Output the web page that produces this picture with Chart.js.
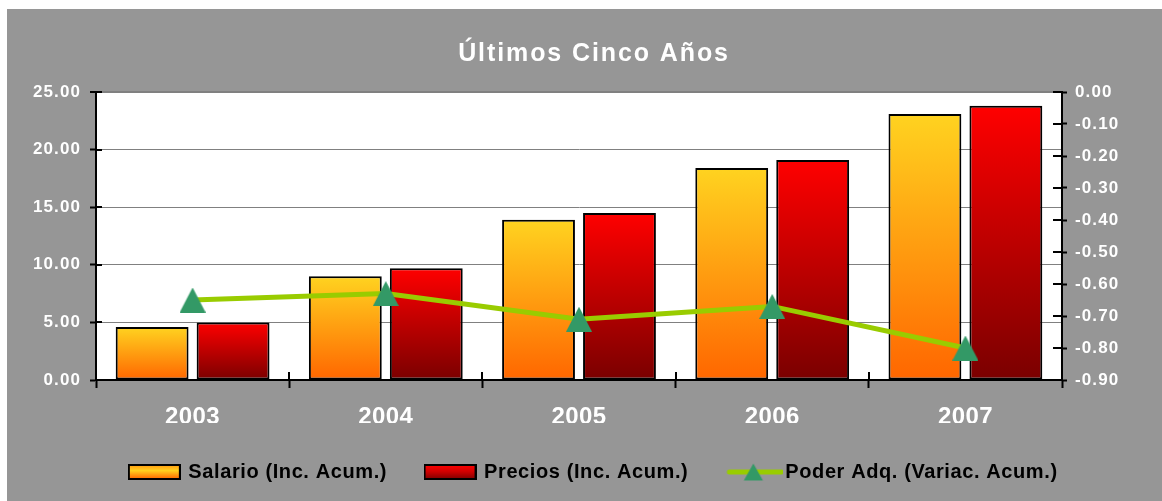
<!DOCTYPE html>
<html><head><meta charset="utf-8">
<script src="https://cdn.jsdelivr.net/npm/chart.js@4.4.1/dist/chart.umd.min.js"></script>
<style>
html,body{margin:0;padding:0;background:#fff;overflow:hidden;width:1162px;height:501px}
#wrap{position:absolute;left:7px;top:9px;width:1155px;height:492px;background:#969696}
canvas{display:block}
</style></head><body>
<div id="wrap"><canvas id="c" width="1155" height="492"></canvas></div>
<script>
const categories = ['2003', '2004', '2005', '2006', '2007'];
const salario = [4.6, 9.0, 13.9, 18.4, 23.1];
const precios = [5.0, 9.7, 14.5, 19.1, 23.8];
const poderAdq = [-0.65, -0.63, -0.71, -0.67, -0.80];
const seriesNames = ['Salario (Inc. Acum.)', 'Precios (Inc. Acum.)', 'Poder Adq. (Variac. Acum.)'];
const titleText = 'Últimos Cinco Años';
const leftAxis = [0, 25, 5];
const rightAxis = [-0.9, 0, 0.1];

const FAMILY = "'Liberation Sans', Arial, sans-serif";

// letter spacing per font size (Excel-like wide rendering)
(function(){
  const P = CanvasRenderingContext2D.prototype;
  const d = Object.getOwnPropertyDescriptor(P, 'font');
  const sp = {'25':'1.9px','24':'0.4px','20':'0.6px','17':'1.1px'};
  Object.defineProperty(P, 'font', {configurable:true, enumerable:d.enumerable,
    get(){ return d.get.call(this); },
    set(v){ d.set.call(this, v); const m = /(\d+(?:\.\d+)?)px/.exec(v);
      if ('letterSpacing' in this) this.letterSpacing = (m && sp[m[1]]) || '0px'; }});
})();

function makeCanvas(w, h, draw){ const c = document.createElement('canvas'); c.width = w; c.height = h; draw(c.getContext('2d'), w, h); return c; }

const triImg = makeCanvas(26, 25, (g) => {
  g.fillStyle = '#339966'; g.beginPath(); g.moveTo(13, 0); g.lineTo(26, 25); g.lineTo(0, 25); g.closePath(); g.fill();
});
function boxImg(stops){ return makeCanvas(53, 16, (g, w, h) => {
  const gr = g.createLinearGradient(0, 1, 0, h - 1); stops.forEach(s => gr.addColorStop(s[0], s[1]));
  g.fillStyle = '#000'; g.fillRect(0, 0, w, h); g.fillStyle = gr; g.fillRect(2, 2, w - 4, h - 4);
}); }
const salBox = boxImg([[0, '#FF9A10'], [0.4, '#FFD020'], [1, '#FF6600']]);
const preBox = boxImg([[0, '#FF0000'], [0.5, '#CC0000'], [1, '#800000']]);
const lineImg = makeCanvas(64, 20, (g) => {
  g.strokeStyle = '#99CC00'; g.lineWidth = 5; g.lineCap = 'round';
  g.beginPath(); g.moveTo(10, 10); g.lineTo(62, 10); g.stroke();
  g.fillStyle = '#339966'; g.beginPath(); g.moveTo(34, 1.5); g.lineTo(43.5, 18.5); g.lineTo(24.5, 18.5); g.closePath(); g.fill();
});

function barGradient(top, bottom){
  return function(c){
    const chart = c.chart; const ys = chart.scales && chart.scales.y;
    if (!ys || !chart.chartArea || c.type !== 'data') return top;
    const y0 = ys.getPixelForValue(c.raw), y1 = ys.getPixelForValue(0);
    if (!isFinite(y0) || !isFinite(y1) || y0 === y1) return top;
    const g = chart.ctx.createLinearGradient(0, y0, 0, y1);
    g.addColorStop(0, top); g.addColorStop(1, bottom); return g;
  };
}

const plotBg = { id:'plotBg', beforeDraw(chart){ const {ctx, chartArea:a} = chart; ctx.save(); ctx.fillStyle = '#fff'; ctx.fillRect(a.left, a.top, a.right - a.left, a.bottom - a.top); ctx.restore(); } };
const innerTicks = { id:'innerTicks', afterDraw(chart){
  const {ctx, chartArea:a, scales} = chart; ctx.save(); ctx.strokeStyle = '#000'; ctx.lineWidth = 2; ctx.beginPath();
  scales.y.ticks.forEach(t => { const y = Math.round(scales.y.getPixelForValue(t.value)); ctx.moveTo(a.left, y); ctx.lineTo(a.left + 6, y); });
  scales.y2.ticks.forEach(t => { const y = Math.round(scales.y2.getPixelForValue(t.value)); ctx.moveTo(a.right - 9, y); ctx.lineTo(a.right, y); });
  for (let i = 0; i <= categories.length; i++) { const x = Math.round(scales.x.getPixelForValue(i - 0.5)); ctx.moveTo(x, a.bottom - 8); ctx.lineTo(x, a.bottom); }
  ctx.stroke(); ctx.restore(); } };

const tickFont = {family: FAMILY, size: 17, weight: 'bold'};
new Chart(document.getElementById('c'), {
  type: 'bar',
  data: { labels: categories, datasets: [
    {type:'bar', label: seriesNames[0], data: salario, yAxisID:'y', order:1, backgroundColor: barGradient('#FFD320', '#FF6600'), borderColor:'#000', borderWidth:2, borderSkipped:false, categoryPercentage:0.838, barPercentage:0.9},
    {type:'bar', label: seriesNames[1], data: precios, yAxisID:'y', order:2, backgroundColor: barGradient('#FF0000', '#7A0000'), borderColor:'#000', borderWidth:2, borderSkipped:false, categoryPercentage:0.838, barPercentage:0.9},
    {type:'line', label: seriesNames[2], data: poderAdq, yAxisID:'y2', order:0, borderColor:'#99CC00', borderWidth:5, tension:0, fill:false, pointStyle: triImg, pointRadius:13, pointHoverRadius:13}
  ]},
  options: {
    responsive:false, animation:false, devicePixelRatio:1,
    layout: {padding: {left:22, right:3, top:0, bottom:9}},
    plugins: {
      tooltip: {enabled:false},
      title: {display:true, text:titleText, color:'#fff', font:{family:FAMILY, size:25, weight:'bold'}, padding:{top:30, bottom:23}},
      legend: {position:'bottom', onClick:null, labels:{usePointStyle:true, pointStyleWidth:48, padding:39, color:'#000', font:{family:FAMILY, size:20, weight:'bold'},
        generateLabels: () => [
          {text: seriesNames[0], pointStyle: salBox, fillStyle:'#FFAA00', strokeStyle:'#000', lineWidth:0, hidden:false, datasetIndex:0},
          {text: seriesNames[1], pointStyle: preBox, fillStyle:'#CC0000', strokeStyle:'#000', lineWidth:0, hidden:false, datasetIndex:1},
          {text: seriesNames[2], pointStyle: lineImg, fillStyle:'#99CC00', strokeStyle:'#99CC00', lineWidth:0, hidden:false, datasetIndex:2}
        ]}}
    },
    scales: {
      x: {type:'category', offset:true,
        grid:{offset:true, drawOnChartArea:false, tickLength:8, tickColor:'#000', tickWidth:2, color:'#000'},
        border:{color:'#000', width:2},
        ticks:{color:'#fff', font:{family:FAMILY, size:24, weight:'bold'}, padding:15, maxRotation:0, autoSkip:false},
        afterFit(s){ s.height = 43; }},
      y: {position:'left', min:leftAxis[0], max:leftAxis[1],
        ticks:{stepSize:leftAxis[2], color:'#fff', font:tickFont, padding:9, callback:v => Number(v).toFixed(2)},
        grid:{color:'#808080', lineWidth: c => (c.tick && c.tick.value === leftAxis[1]) ? 2 : 1, tickColor:'#000', tickWidth:2, tickLength:6},
        border:{color:'#000', width:2},
        afterFit(s){ s.width = 67; }},
      y2: {position:'right', min:rightAxis[0], max:rightAxis[1],
        ticks:{stepSize:rightAxis[2], color:'#fff', font:tickFont, padding:8, callback:v => Number(v).toFixed(2)},
        grid:{drawOnChartArea:false, tickColor:'#000', tickWidth:2, tickLength:5, color:'#000'},
        border:{color:'#000', width:2},
        afterFit(s){ s.width = 97; }}
    }
  },
  plugins: [plotBg, innerTicks]
});
</script>
</body></html>
